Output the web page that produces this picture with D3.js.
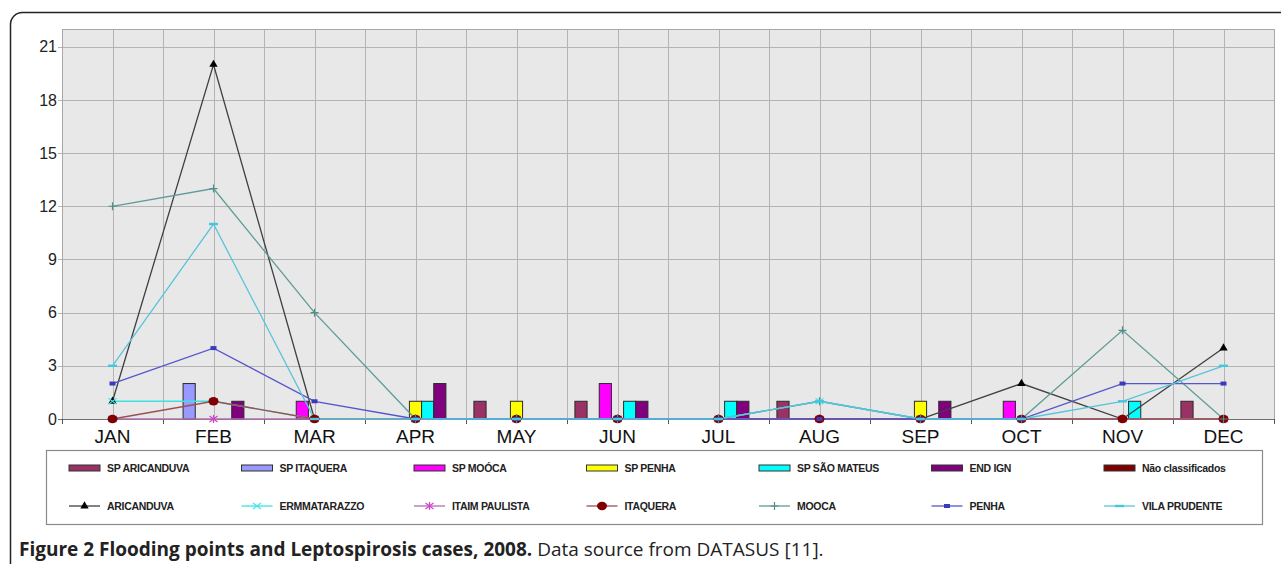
<!DOCTYPE html>
<html>
<head>
<meta charset="utf-8">
<script src="https://cdn.jsdelivr.net/npm/d3@7/dist/d3.min.js"></script>
<style>
  html, body { margin: 0; padding: 0; background: #fff; }
  svg { display: block; }
</style>
</head>
<body>
<svg id="chart" width="1281" height="564"></svg>
<script>
// ---------- DATA ----------
const months = ["JAN","FEB","MAR","APR","MAY","JUN","JUL","AUG","SEP","OCT","NOV","DEC"];
const yTicks = [0, 3, 6, 9, 12, 15, 18, 21];

// Flooding points (bars)
const barNames = ["SP ARICANDUVA","SP ITAQUERA","SP MOÓCA","SP PENHA","SP SÃO MATEUS","END IGN","Não classificados"];
const spAricanduva     = [0,0,0,0,1,1,0,1,0,0,0,1];
const spItaquera       = [0,2,0,0,0,0,0,0,0,0,0,0];
const spMooca          = [0,0,1,0,0,2,0,0,0,1,0,0];
const spPenha          = [0,0,0,1,1,0,0,0,1,0,0,0];
const spSaoMateus      = [0,0,0,1,0,1,1,0,0,0,1,0];
const endIgn           = [0,1,0,2,0,1,1,0,1,0,0,0];
const naoClassificados = [0,0,0,0,0,0,0,0,0,0,0,0];
const barColors = ["#993366","#9999FF","#FF00FF","#FFFF00","#00FFFF","#800080","#800000"];

// Leptospirosis cases (lines)
const lineNames = ["ARICANDUVA","ERMMATARAZZO","ITAIM PAULISTA","ITAQUERA","MOOCA","PENHA","VILA PRUDENTE"];
const aricanduva    = [1,20,0,0,0,0,0,0,0,2,0,4];
const ermmatarazzo  = [1,1,0,0,0,0,0,1,0,0,0,0];
const itaimPaulista = [0,0,0,0,0,0,0,0,0,0,0,0];
const itaquera      = [0,1,0,0,0,0,0,0,0,0,0,0];
const mooca         = [12,13,6,0,0,0,0,1,0,0,5,0];
const penha         = [2,4,1,0,0,0,0,0,0,0,2,2];
const vilaPrudente  = [3,11,0,0,0,0,0,1,0,0,1,3];
const lineColors   = ["#404040","#3FE0E0","#B070B0","#9A5050","#5E9C98","#5555CC","#58C4DC"];
const markerColors = ["#000000","#40E8E8","#CC44CC","#800000","#4F8F8B","#3A3ABF","#40C8E0"];
const markerTypes  = ["triangle","x","asterisk","circle","plus","square","dash"];

const barValues  = [spAricanduva, spItaquera, spMooca, spPenha, spSaoMateus, endIgn, naoClassificados];
const lineValues = [aricanduva, ermmatarazzo, itaimPaulista, itaquera, mooca, penha, vilaPrudente];

// ---------- LAYOUT ----------
const svg = d3.select("#chart");
const plot = { left: 62, right: 1274, top: 29, bottom: 419 };

// outer frame
svg.append("rect")
  .attr("x", 10.5).attr("y", 12.5).attr("width", 1300).attr("height", 620)
  .attr("rx", 12).attr("ry", 12)
  .attr("fill", "#fff").attr("stroke", "#222").attr("stroke-width", 1.5);

const x0 = d3.scaleBand().domain(months).range([plot.left, plot.right]).padding(0);
const x1 = d3.scaleBand().domain(barNames).range([0, x0.bandwidth()]).paddingInner(0).paddingOuter(0.65);
const y = d3.scaleLinear().domain([0, 22]).range([plot.bottom, plot.top]);
const cx = m => x0(m) + x0.bandwidth() / 2;

// plot background
svg.append("rect")
  .attr("x", plot.left).attr("y", plot.top)
  .attr("width", plot.right - plot.left).attr("height", plot.bottom - plot.top)
  .attr("fill", "#E8E8E8");

const grid = svg.append("g").attr("stroke", "#B4B4B4").attr("stroke-width", 1);
// horizontal grid
grid.selectAll("line.h").data(yTicks.filter(d => d > 0)).join("line")
  .attr("x1", plot.left - 4).attr("x2", plot.right)
  .attr("y1", d => Math.round(y(d)) + 0.5).attr("y2", d => Math.round(y(d)) + 0.5);
// vertical grid: band boundaries and centers
const vx = [];
months.forEach(m => { vx.push(x0(m)); vx.push(cx(m)); });
vx.push(plot.right);
grid.selectAll("line.v").data(vx).join("line")
  .attr("x1", d => Math.round(d) + 0.5).attr("x2", d => Math.round(d) + 0.5)
  .attr("y1", plot.top).attr("y2", plot.bottom);

// plot border
svg.append("rect")
  .attr("x", plot.left + 0.5).attr("y", plot.top + 0.5)
  .attr("width", plot.right - plot.left).attr("height", plot.bottom - plot.top)
  .attr("fill", "none").attr("stroke", "#A8A8A8");

// y axis labels
svg.append("g").selectAll("text").data(yTicks).join("text")
  .attr("x", 57).attr("y", d => y(d)).attr("dy", "0.35em")
  .attr("text-anchor", "end")
  .attr("font-family", "Liberation Sans, Arial, sans-serif").attr("font-size", 16)
  .attr("fill", "#222").text(d => d);

// x axis line and ticks
svg.append("line")
  .attr("x1", plot.left - 4).attr("x2", plot.right)
  .attr("y1", plot.bottom + 0.5).attr("y2", plot.bottom + 0.5)
  .attr("stroke", "#707070").attr("stroke-width", 1.2);
svg.append("g").selectAll("line").data(months.map(m => x0(m)).concat([plot.right])).join("line")
  .attr("x1", d => Math.round(d) + 0.5).attr("x2", d => Math.round(d) + 0.5)
  .attr("y1", plot.bottom).attr("y2", plot.bottom + 5)
  .attr("stroke", "#555").attr("stroke-width", 1);

svg.append("g").selectAll("text").data(months).join("text")
  .attr("x", d => cx(d)).attr("y", 443)
  .attr("text-anchor", "middle")
  .attr("font-family", "Liberation Sans, Arial, sans-serif").attr("font-size", 19)
  .attr("fill", "#111").text(d => d);

// ---------- BARS ----------
const barData = [];
barNames.forEach((name, i) => {
  barValues[i].forEach((v, j) => { if (v > 0) barData.push({ name, i, month: months[j], v }); });
});
svg.append("g").selectAll("rect").data(barData).join("rect")
  .attr("x", d => x0(d.month) + x1(d.name))
  .attr("y", d => y(d.v))
  .attr("width", x1.bandwidth())
  .attr("height", d => y(0) - y(d.v))
  .attr("fill", d => barColors[d.i])
  .attr("stroke", "#2a2a2a").attr("stroke-width", 1);

// ---------- MARKERS ----------
function drawMarker(g, type, px, py, color) {
  if (type === "triangle") {
    g.append("path").attr("d", d3.symbol(d3.symbolTriangle, 30)())
      .attr("transform", `translate(${px},${py})`).attr("fill", color);
  } else if (type === "circle") {
    g.append("ellipse").attr("cx", px).attr("cy", py).attr("rx", 5).attr("ry", 4.2).attr("fill", color);
  } else if (type === "square") {
    g.append("rect").attr("x", px - 3).attr("y", py - 2).attr("width", 6).attr("height", 4).attr("fill", color);
  } else if (type === "dash") {
    g.append("rect").attr("x", px - 4.5).attr("y", py - 1.2).attr("width", 9).attr("height", 2.4).attr("fill", color);
  } else if (type === "plus") {
    g.append("path").attr("d", `M${px-4},${py}H${px+4}M${px},${py-4}V${py+4}`)
      .attr("stroke", color).attr("stroke-width", 1.2);
  } else if (type === "x") {
    g.append("path").attr("d", `M${px-4},${py-3}L${px+4},${py+3}M${px-4},${py+3}L${px+4},${py-3}`)
      .attr("stroke", color).attr("stroke-width", 1.2);
  } else if (type === "asterisk") {
    g.append("path").attr("d", `M${px-4},${py-3}L${px+4},${py+3}M${px-4},${py+3}L${px+4},${py-3}M${px},${py-4}V${py+4}`)
      .attr("stroke", color).attr("stroke-width", 1.2);
  }
}

// ---------- LINES ----------
const lineGen = d3.line().x(d => cx(d.month)).y(d => y(d.v));
const linesG = svg.append("g");
lineNames.forEach((name, i) => {
  const pts = lineValues[i].map((v, j) => ({ month: months[j], v }));
  linesG.append("path").datum(pts)
    .attr("d", lineGen).attr("fill", "none")
    .attr("stroke", lineColors[i]).attr("stroke-width", 1.3);
});
lineNames.forEach((name, i) => {
  const g = linesG.append("g");
  lineValues[i].forEach((v, j) => drawMarker(g, markerTypes[i], cx(months[j]), y(v), markerColors[i]));
});

// ---------- LEGEND ----------
svg.append("rect")
  .attr("x", 46.5).attr("y", 450.5).attr("width", 1216).attr("height", 74)
  .attr("fill", "#fff").attr("stroke", "#8a8a8a").attr("stroke-width", 1.2);

const legX = d3.scalePoint().domain(d3.range(7)).range([69, 1104]);
const legFont = "Liberation Sans, Arial, sans-serif";
const lg = svg.append("g");
barNames.forEach((name, i) => {
  const lx = legX(i);
  lg.append("rect").attr("x", lx).attr("y", 465).attr("width", 31).attr("height", 6)
    .attr("fill", barColors[i]).attr("stroke", "#333").attr("stroke-width", 1);
  lg.append("text").attr("x", lx + 38).attr("y", 468).attr("dy", "0.35em")
    .attr("font-family", legFont).attr("font-size", 10.5).attr("font-weight", "bold")
    .attr("letter-spacing", -0.3)
    .attr("fill", "#222").text(name);
});
lineNames.forEach((name, i) => {
  const lx = legX(i);
  lg.append("line").attr("x1", lx).attr("x2", lx + 31).attr("y1", 506).attr("y2", 506)
    .attr("stroke", lineColors[i]).attr("stroke-width", 1.3);
  const g = lg.append("g");
  drawMarker(g, markerTypes[i], lx + 15.5, 506, markerColors[i]);
  lg.append("text").attr("x", lx + 38).attr("y", 506).attr("dy", "0.35em")
    .attr("font-family", legFont).attr("font-size", 10.5).attr("font-weight", "bold")
    .attr("letter-spacing", -0.3)
    .attr("fill", "#222").text(name);
});

// ---------- CAPTION ----------
const cap = svg.append("text").attr("x", 19).attr("y", 556)
  .attr("font-family", "Open Sans, Noto Sans, sans-serif").attr("font-size", 19).attr("fill", "#222");
cap.append("tspan").attr("font-weight", "bold").text("Figure 2 Flooding points and Leptospirosis cases, 2008.");
cap.append("tspan").text(" Data source from DATASUS [11].");
</script>
</body>
</html>
